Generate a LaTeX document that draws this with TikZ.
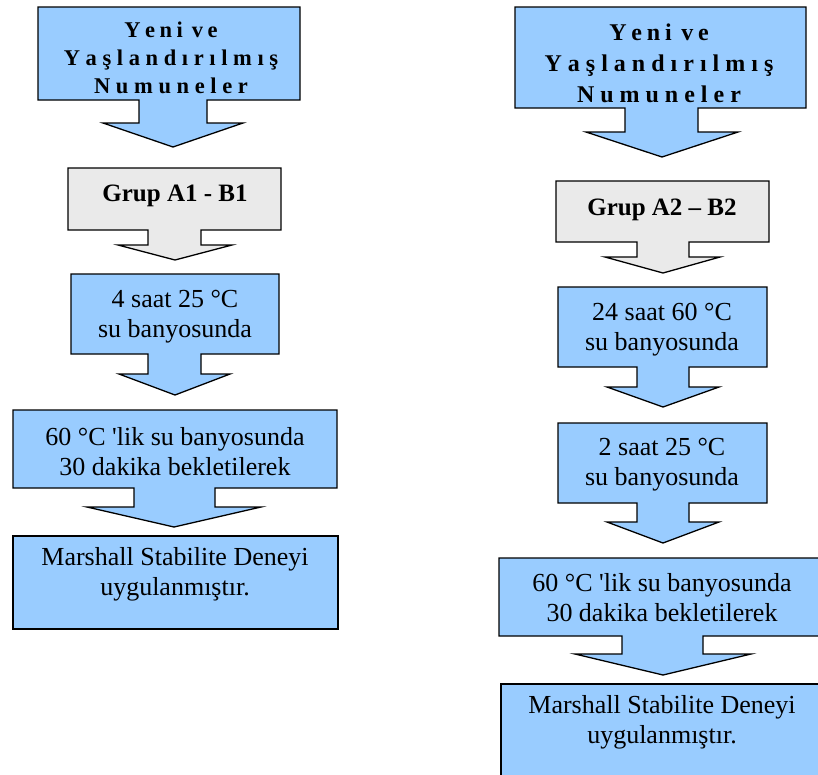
\documentclass[tikz,border=0pt]{standalone}
\usepackage{fontspec}
\setmainfont{Liberation Serif}
\newcommand{\tightsp}{\spaceskip=0.2em plus 0pt minus 0pt\relax}
\begin{document}
\begin{tikzpicture}[x=1pt,y=-1pt,
  bluebox/.style={draw=black,line width=1.3pt,fill={rgb,255:red,153;green,204;blue,255},line join=miter},
  graybox/.style={draw=black,line width=1.3pt,fill={rgb,255:red,234;green,234;blue,234},line join=miter},
  body/.style={align=center,font=\fontsize{26}{30}\selectfont,inner sep=0pt},
  titlel/.style={align=center,font=\fontsize{22.5}{28}\selectfont\bfseries,inner sep=0pt},
  titler/.style={align=center,font=\fontsize{24}{31}\selectfont\bfseries,inner sep=0pt},
  grp/.style={align=center,font=\fontsize{25}{30}\selectfont\bfseries,inner sep=0pt}]
\useasboundingbox (0,0) rectangle (818,774);
\begin{scope}
\clip (0,0) rectangle (818,774);
% ---------- left column ----------
\draw[bluebox] (38,7) -- (300,7) -- (300,100) -- (207,100) -- (207,123) -- (243,123) -- (173,147) -- (103,123) -- (139,123) -- (139,100) -- (38,100) -- cycle;
\draw[graybox] (68,168) -- (281,168) -- (281,230) -- (201,230) -- (201,245) -- (232,245) -- (175,260) -- (118,245) -- (148,245) -- (148,230) -- (68,230) -- cycle;
\draw[bluebox] (71,274) -- (279,274) -- (279,354) -- (201,354) -- (201,374) -- (230,374) -- (175,395) -- (119,374) -- (148,374) -- (148,354) -- (71,354) -- cycle;
\draw[bluebox] (13,410) -- (337,410) -- (337,488) -- (215,488) -- (215,507) -- (261,507) -- (174,527) -- (87,507) -- (134,507) -- (134,488) -- (13,488) -- cycle;
\draw[bluebox] (13,536) rectangle (338,629);
% ---------- right column ----------
\draw[bluebox] (515,7) -- (806,7) -- (806,108) -- (698,108) -- (698,132) -- (738,132) -- (662,157) -- (586,132) -- (625,132) -- (625,108) -- (515,108) -- cycle;
\draw[graybox] (556,181) -- (769,181) -- (769,242) -- (689,242) -- (689,257) -- (720,257) -- (663,273) -- (605,257) -- (637,257) -- (637,242) -- (556,242) -- cycle;
\draw[bluebox] (558,287) -- (767,287) -- (767,367) -- (689,367) -- (689,387) -- (719,387) -- (663,407) -- (607,387) -- (637,387) -- (637,367) -- (558,367) -- cycle;
\draw[bluebox] (558,423) -- (767,423) -- (767,503) -- (689,503) -- (689,522) -- (719,522) -- (663,543) -- (607,522) -- (637,522) -- (637,503) -- (558,503) -- cycle;
\draw[bluebox] (499,558) -- (830,558) -- (830,636) -- (703,636) -- (703,654) -- (751,654) -- (663,675) -- (575,654) -- (622,654) -- (622,636) -- (499,636) -- cycle;
\draw[bluebox] (501,684) -- (830,684) -- (830,800) -- (501,800) -- cycle;
\end{scope}
% ---------- texts ----------
\node[titlel] (lt) at (171,58) {\tightsp Y e n i \ v e\\Y a ş l a n d ı r ı l m ı ş\\N u m u n e l e r};
\node[grp] (lg) at (175,196) {Grup A1 - B1};
\node[body] (l1) at (175,317) {4 saat 25 °C\\su banyosunda};
\node[body] (l2) at (175,452) {60 °C \textquotesingle lik su banyosunda\\30 dakika bekletilerek};
\node[body] (l3) at (175,574) {Marshall Stabilite Deneyi\\uygulanmıştır.};
\node[titler] (rt) at (659,63) {\tightsp Y e n i \ v e\\Y a ş l a n d ı r ı l m ı ş\\N u m u n e l e r};
\node[grp] (rg) at (662,210) {Grup A2 – B2};
\node[body] (r1) at (662,330) {24 saat 60 °C\\su banyosunda};
\node[body] (r2) at (662,465) {2 saat 25 °C\\su banyosunda};
\node[body] (r3) at (662,598) {60 °C \textquotesingle lik su banyosunda\\30 dakika bekletilerek};
\node[body] (r4) at (662,722) {Marshall Stabilite Deneyi\\uygulanmıştır.};
\end{tikzpicture}
\end{document}
